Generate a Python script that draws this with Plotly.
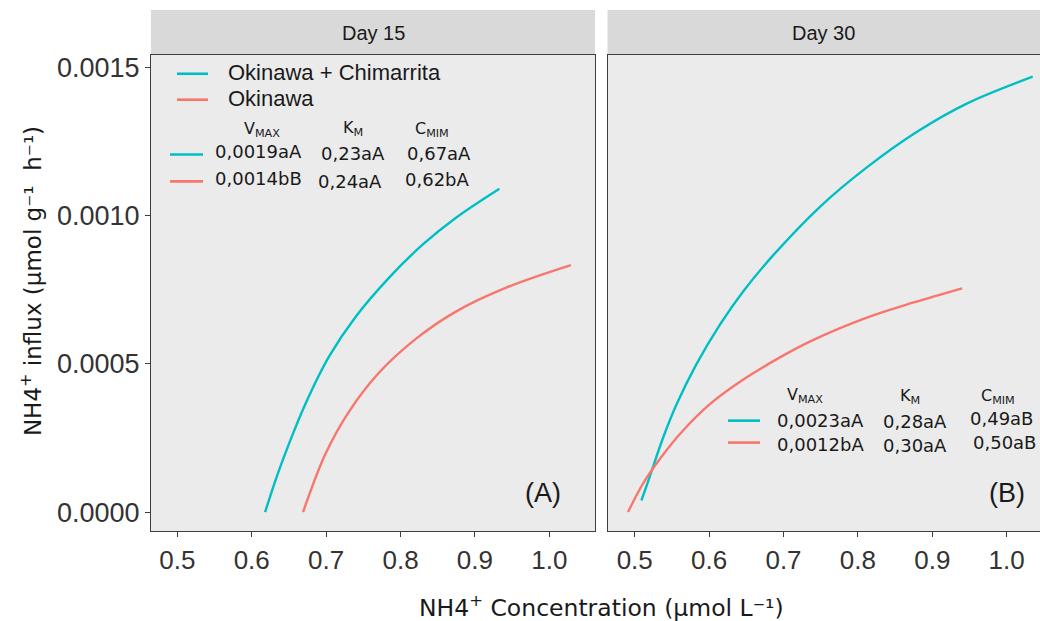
import plotly.graph_objects as go

# ---- data -------------------------------------------------------------
panels = ["Day 15", "Day 30"]
panel_tags = ["(A)", "(B)"]
series_names = ["Okinawa + Chimarrita", "Okinawa"]
series_colors = ["#00BFC4", "#F8766D"]

# Day 15: NH4+ concentration (x) vs influx (y)
d15_chim_x = [0.618, 0.634, 0.650, 0.672, 0.704, 0.740, 0.785, 0.830, 0.875, 0.933]
d15_chim_y = [0.0, 0.000122, 0.000230, 0.000364, 0.000525, 0.000660, 0.000792, 0.000903, 0.000994, 0.001091]
d15_oki_x = [0.669, 0.699, 0.731, 0.771, 0.821, 0.875, 0.942, 1.029]
d15_oki_y = [0.0, 0.000196, 0.000340, 0.000470, 0.000585, 0.000677, 0.000757, 0.000833]

# Day 30
d30_chim_x = [0.509, 0.520, 0.538, 0.556, 0.583, 0.615, 0.646, 0.686, 0.749, 0.812, 0.880, 0.947, 1.035]
d30_chim_y = [0.000039, 0.000118, 0.000250, 0.000362, 0.000499, 0.000634, 0.000745, 0.000866,
              0.001030, 0.001163, 0.001284, 0.001379, 0.001469]
d30_oki_x = [0.491, 0.511, 0.534, 0.565, 0.601, 0.646, 0.691, 0.736, 0.812, 0.876, 0.940]
d30_oki_y = [0.0, 0.0000955, 0.000180, 0.000275, 0.000364, 0.000447, 0.000516, 0.000576,
             0.000656, 0.000708, 0.000755]

# kinetic parameter tables: rows follow series order
table_headers = ["V<sub>MAX</sub>", "K<sub>M</sub>", "C<sub>MIM</sub>"]
d15_table = [["0,0019aA", "0,23aA", "0,67aA"],
             ["0,0014bB", "0,24aA", "0,62bA"]]
d30_table = [["0,0023aA", "0,28aA", "0,49aB"],
             ["0,0012bA", "0,30aA", "0,50aB"]]

y_ticks = [0.0, 0.0005, 0.0010, 0.0015]
x_ticks = [0.5, 0.6, 0.7, 0.8, 0.9, 1.0]

# ---- geometry helpers (pixels -> paper) --------------------------------
W, H = 1040, 621


def px(p):
    return p / W


def py(p):
    return 1 - p / H


PANEL_TOP, PANEL_BOTTOM = 53, 531
P1_LEFT, P1_RIGHT = 151, 595
P2_LEFT, P2_RIGHT = 607.5, 1040
STRIP_TOP = 8

BORDER = "#3d3d3d"
TEXT = "#1a1a1a"
TICKTXT = "#333333"

fig = go.Figure()

series = [
    ("x", "y", d15_chim_x, d15_chim_y, 0),
    ("x", "y", d15_oki_x, d15_oki_y, 1),
    ("x2", "y2", d30_chim_x, d30_chim_y, 0),
    ("x2", "y2", d30_oki_x, d30_oki_y, 1),
]
for xa, ya, xs, ys, k in series:
    fig.add_trace(go.Scatter(
        x=xs, y=ys, xaxis=xa, yaxis=ya, mode="lines",
        name=series_names[k], showlegend=False,
        line=dict(color=series_colors[k], width=2.4, shape="spline", smoothing=1.0),
    ))

y_range = [-0.0000649, 0.0015427]
x_tick_font = dict(family="Liberation Sans, Arial, sans-serif", size=26, color=TICKTXT)
y_tick_font = dict(family="Liberation Sans, Arial, sans-serif", size=27, color=TICKTXT)

fig.update_layout(
    width=W, height=H,
    margin=dict(l=0, r=0, t=0, b=0),
    paper_bgcolor="white",
    plot_bgcolor="#EBEBEB",
    showlegend=False,
    xaxis=dict(
        domain=[px(P1_LEFT), px(P1_RIGHT)], range=[0.4646, 1.0614],
        tickvals=x_ticks, tickformat=".1f", ticks="outside", ticklen=5,
        tickcolor=BORDER, tickfont=x_tick_font, showgrid=False, zeroline=False,
        showline=True, mirror=True, linecolor=BORDER, linewidth=1.2,
        anchor="y",
    ),
    xaxis2=dict(
        domain=[px(P2_LEFT), px(P2_RIGHT)], range=[0.4634, 1.0448],
        tickvals=x_ticks, tickformat=".1f", ticks="outside", ticklen=5,
        tickcolor=BORDER, tickfont=x_tick_font, showgrid=False, zeroline=False,
        showline=True, mirror=True, linecolor=BORDER, linewidth=1.2,
        anchor="y2",
    ),
    yaxis=dict(
        domain=[py(PANEL_BOTTOM), py(PANEL_TOP)], range=y_range,
        tickvals=y_ticks, tickformat=".4f", ticks="outside", ticklen=5,
        tickcolor=BORDER, tickfont=y_tick_font, showgrid=False, zeroline=False,
        showline=True, mirror=True, linecolor=BORDER, linewidth=1.2,
        anchor="x",
    ),
    yaxis2=dict(
        domain=[py(PANEL_BOTTOM), py(PANEL_TOP)], range=y_range,
        showticklabels=False, ticks="", showgrid=False, zeroline=False,
        showline=True, mirror=False, linecolor=BORDER, linewidth=1.2,
        anchor="x2",
    ),
)

shapes = []
annotations = []

# facet strips
for (l, r), label in zip([(P1_LEFT, P1_RIGHT), (P2_LEFT, P2_RIGHT)], panels):
    shapes.append(dict(type="rect", xref="paper", yref="paper",
                       x0=px(l), x1=px(r), y0=py(PANEL_TOP - 0.5), y1=py(STRIP_TOP),
                       fillcolor="#D9D9D9", line=dict(width=0), layer="below"))
    annotations.append(dict(xref="paper", yref="paper", x=px((l + r) / 2), y=py(31),
                            text=label, showarrow=False, xanchor="center", yanchor="middle",
                            font=dict(family="Liberation Sans, Arial, sans-serif", size=20, color=TEXT)))

# panel tags
for xa, ya, tag, xv in [("x", "y", panel_tags[0], 0.9915), ("x2", "y2", panel_tags[1], 1.0)]:
    annotations.append(dict(xref=xa, yref=ya, x=xv, y=0.0000645,
                            text=tag, showarrow=False, xanchor="center", yanchor="middle",
                            font=dict(family="Liberation Sans, Arial, sans-serif", size=27, color=TEXT)))

# legend in panel A
legend_rows_y = [72, 98]
for k, ly in enumerate(legend_rows_y):
    shapes.append(dict(type="line", xref="paper", yref="paper",
                       x0=px(177), x1=px(208), y0=py(ly), y1=py(ly),
                       line=dict(color=series_colors[k], width=2.6)))
    annotations.append(dict(xref="paper", yref="paper", x=px(226), y=py(ly - 1),
                            text=series_names[k], showarrow=False, xanchor="left", yanchor="middle",
                            font=dict(family="Liberation Sans, Arial, sans-serif", size=22, color=TEXT)))

table_font = dict(family="DejaVu Sans, sans-serif", size=18, color=TEXT)
header_font = dict(family="DejaVu Sans, sans-serif", size=16, color=TEXT)


def add_table(rows, header_pos, col_pos, row_y, line_x):
    for h, (hx, hy) in zip(table_headers, header_pos):
        annotations.append(dict(xref="paper", yref="paper", x=px(hx), y=py(hy), text=h,
                                showarrow=False, xanchor="center", yanchor="middle", font=header_font))
    for k, row in enumerate(rows):
        ly = row_y[k][0]
        shapes.append(dict(type="line", xref="paper", yref="paper",
                           x0=px(line_x[0]), x1=px(line_x[1]), y0=py(ly), y1=py(ly),
                           line=dict(color=series_colors[k], width=2.6)))
        for j, cell in enumerate(row):
            annotations.append(dict(xref="paper", yref="paper", x=px(col_pos[k][j]), y=py(row_y[k][j + 1]),
                                    text=cell, showarrow=False, xanchor="center", yanchor="middle",
                                    font=table_font))


add_table(d15_table,
          header_pos=[(262, 128), (353, 127), (432, 128)],
          col_pos=[[258, 353, 439], [258, 350, 437.5]],
          row_y=[[153, 150, 152, 152], [180, 177, 180, 178.5]],
          line_x=(170, 203))
add_table(d30_table,
          header_pos=[(805, 395), (910, 396), (998, 396)],
          col_pos=[[820, 915, 1001], [820, 915, 1004]],
          row_y=[[420, 419.5, 420.5, 417.5], [442, 443.5, 445, 442]],
          line_x=(728, 760))

# axis titles
annotations.append(dict(xref="paper", yref="paper", x=px(601), y=py(606),
                        text="NH4<sup>+</sup> Concentration (µmol L⁻¹)", showarrow=False,
                        xanchor="center", yanchor="middle",
                        font=dict(family="DejaVu Sans, sans-serif", size=23.5, color=TEXT)))
annotations.append(dict(xref="paper", yref="paper", x=px(31), y=py(280),
                        text="NH4<sup>+</sup> influx (µmol g⁻¹  h⁻¹)", showarrow=False,
                        textangle=-90, xanchor="center", yanchor="middle",
                        font=dict(family="DejaVu Sans, sans-serif", size=23, color=TEXT)))

fig.update_layout(shapes=shapes, annotations=annotations)

fig.write_html("out.html")
